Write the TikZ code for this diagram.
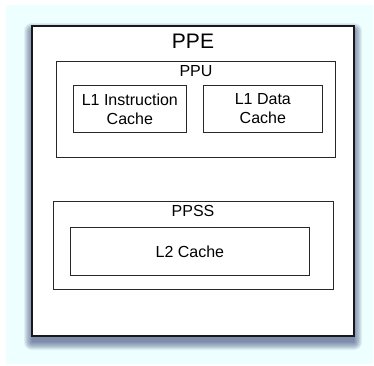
\documentclass[tikz,border=0pt]{standalone}
\usepackage{fontspec}
\setmainfont{Liberation Sans}
\definecolor{pagebg}{RGB}{238,255,255}
\definecolor{shadowblue}{RGB}{40,55,110}
\definecolor{edge}{RGB}{40,40,40}
\tikzset{
  unitbox/.style={draw=edge, line width=1pt, fill=white, inner sep=0pt, outer sep=0pt},
  cachebox/.style={unitbox, align=center, font=\fontsize{16}{19}\selectfont},
  sublabel/.style={font=\fontsize{16}{19}\selectfont, inner sep=0pt, anchor=base},
}
\begin{document}
\begin{tikzpicture}[x=1pt, y=-1pt]
  \useasboundingbox (0,0) rectangle (374,365);
  \fill[pagebg] (6,5) rectangle (373,364);

  % soft drop shadow of the processor element: stacked translucent layers
  \foreach \s in {0,0.8,...,8.8} {
    \fill[shadowblue, opacity=0.07, rounded corners=\s pt]
      (32-\s,31-\s) rectangle (354+\s,342+\s);
  }

  % processor element
  \node[unitbox, draw=black!90, line width=1.3pt, minimum width=322pt, minimum height=310pt]
        (ppe) at (193,181) {};
  \node[font=\fontsize{21}{25}\selectfont, inner sep=0pt, anchor=base] (ppelbl) at (193,48.3) {PPE};

  % PPU with its L1 caches
  \node[unitbox, minimum width=279pt, minimum height=96pt] (ppu) at (195.5,109) {};
  \node[sublabel] (ppulbl) at (196,76.7) {PPU};
  \node[cachebox, minimum width=113.7pt, minimum height=47.7pt] (l1i) at (129.85,108.85) {L1 Instruction\\Cache};
  \node[cachebox, minimum width=119.7pt, minimum height=47.7pt] (l1d) at (262.85,108.85) {L1 Data\\Cache};

  % PPSS with the L2 cache
  \node[unitbox, minimum width=280pt, minimum height=88pt] (ppss) at (193,245) {};
  \node[sublabel] (ppsslbl) at (193,216) {PPSS};
  \node[cachebox, minimum width=238.3pt, minimum height=48pt] (l2) at (189.85,251.5) {L2 Cache};
\end{tikzpicture}
\end{document}
